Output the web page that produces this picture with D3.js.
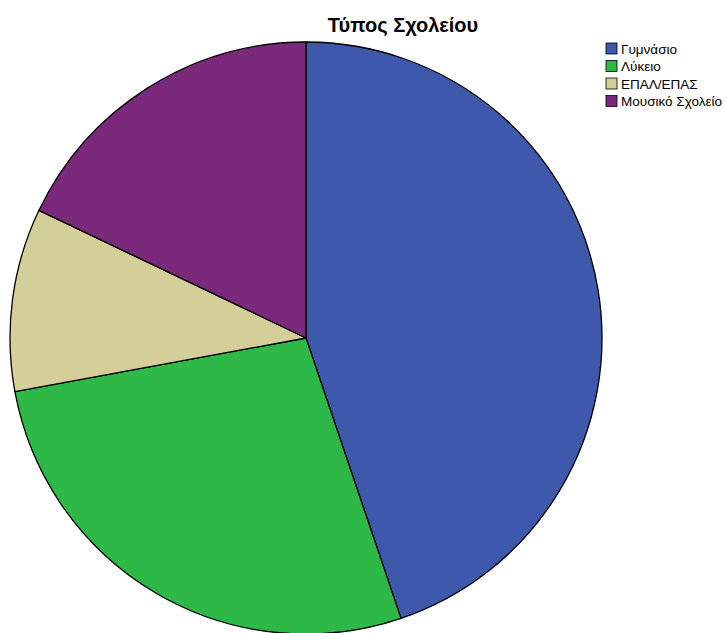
<!DOCTYPE html>
<html><head><meta charset="utf-8">
<script src="https://d3js.org/d3.v7.min.js"></script>
<style>body{margin:0;background:#fff;}</style>
</head><body>
<script>
const categories = ["Γυμνάσιο", "Λύκειο", "ΕΠΑΛ/ΕΠΑΣ", "Μουσικό Σχολείο"];
const values = [44.8, 27.3, 10.0, 17.9];
const colors = ["#3e58ac", "#2eb848", "#d4ce98", "#7b2a7b"];
const title = "Τύπος Σχολείου";

const W = 726, H = 633;
const svg = d3.select("body").append("svg").attr("width", W).attr("height", H);

svg.append("text").attr("x", 403).attr("y", 32).attr("text-anchor", "middle")
  .attr("font-family", "Liberation Sans, Arial, sans-serif").attr("font-weight", "bold")
  .attr("font-size", 20).attr("fill", "#000").text(title);

const cx = 306, cy = 338, r = 296;
const pie = d3.pie().sort(null).value(d => d)(values);
const arc = d3.arc().innerRadius(0).outerRadius(r);
const g = svg.append("g").attr("transform", `translate(${cx},${cy})`);
g.selectAll("path").data(pie).join("path")
  .attr("d", arc).attr("fill", (d, i) => colors[i])
  .attr("stroke", "#000").attr("stroke-width", 1.3).attr("stroke-linejoin", "round");

const leg = svg.append("g").attr("transform", "translate(606,43)");
const rows = leg.selectAll("g").data(categories).join("g")
  .attr("transform", (d, i) => `translate(0,${i * 17.5})`);
rows.append("rect").attr("width", 11).attr("height", 11)
  .attr("fill", (d, i) => colors[i]).attr("stroke", "#000").attr("stroke-width", 0.8);
rows.append("text").attr("x", 15).attr("y", 10.5)
  .attr("font-family", "Liberation Sans, Arial, sans-serif").attr("font-size", 13.5)
  .attr("fill", "#000").text(d => d);
</script>
</body></html>
